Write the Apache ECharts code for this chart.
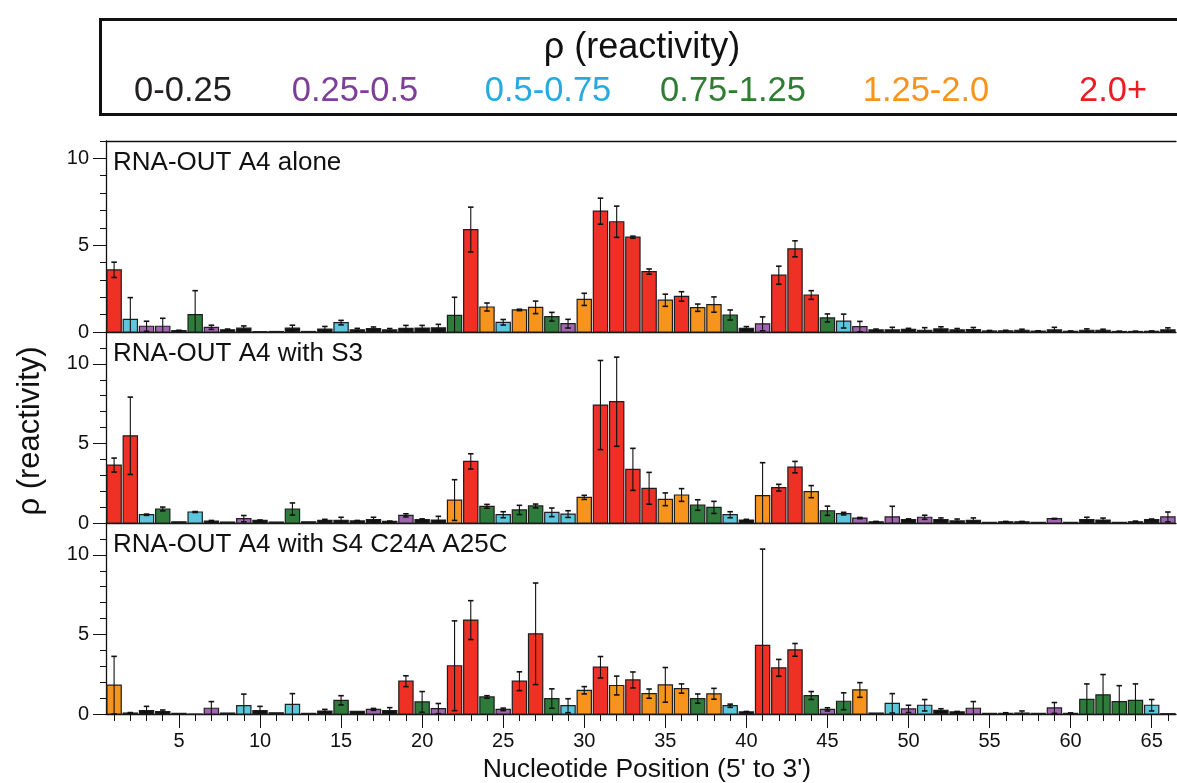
<!DOCTYPE html>
<html>
<head>
<meta charset="utf-8">
<title>SHAPE reactivity profiles</title>
<script src="https://cdn.jsdelivr.net/npm/echarts@6/dist/echarts.min.js"></script>
<style>
  html, body { margin: 0; padding: 0; background: #ffffff; }
  #chart { width: 1177px; height: 783px; }
</style>
</head>
<body>
<div id="chart"></div>
<script>
// Nucleotide positions (5' to 3')
const positions = [
  1, 2, 3, 4, 5, 6, 7, 8, 9, 10, 11, 12, 13, 14, 15, 16, 17, 18, 19, 20, 21, 22,
  23, 24, 25, 26, 27, 28, 29, 30, 31, 32, 33, 34, 35, 36, 37, 38, 39, 40, 41, 42, 43, 44,
  45, 46, 47, 48, 49, 50, 51, 52, 53, 54, 55, 56, 57, 58, 59, 60, 61, 62, 63, 64, 65, 66
];

// RNA-OUT A4 alone: reactivity and error
const aloneRho = [
  3.58, 0.73, 0.33, 0.33, 0.08, 1.00, 0.27, 0.13, 0.22, 0.02, 0.03, 0.22, 0.03, 0.17, 0.54, 0.13,
  0.19, 0.12, 0.21, 0.23, 0.24, 0.96, 5.90, 1.44, 0.56, 1.27, 1.42, 0.88, 0.48, 1.88, 6.96, 6.35,
  5.46, 3.48, 1.83, 2.05, 1.40, 1.58, 0.98, 0.21, 0.47, 3.27, 4.79, 2.13, 0.81, 0.63, 0.31, 0.12,
  0.12, 0.15, 0.10, 0.18, 0.12, 0.14, 0.06, 0.07, 0.10, 0.05, 0.12, 0.04, 0.10, 0.10, 0.03, 0.03,
  0.04, 0.12
];
const aloneErr = [
  0.44, 1.25, 0.29, 0.46, 0.02, 1.38, 0.12, 0.04, 0.13, 0.00, 0.00, 0.17, 0.00, 0.15, 0.13, 0.08,
  0.10, 0.08, 0.17, 0.15, 0.20, 1.04, 1.29, 0.23, 0.16, 0.04, 0.36, 0.25, 0.25, 0.35, 0.75, 0.90,
  0.06, 0.15, 0.35, 0.27, 0.21, 0.44, 0.29, 0.10, 0.40, 0.52, 0.46, 0.25, 0.23, 0.40, 0.30, 0.05,
  0.15, 0.06, 0.15, 0.12, 0.08, 0.12, 0.03, 0.03, 0.06, 0.02, 0.15, 0.02, 0.08, 0.06, 0.02, 0.02,
  0.02, 0.12
];

// RNA-OUT A4 with S3
const s3Rho = [
  3.64, 5.48, 0.52, 0.88, 0.08, 0.69, 0.12, 0.06, 0.27, 0.16, 0.06, 0.88, 0.08, 0.17, 0.17, 0.13,
  0.21, 0.10, 0.48, 0.21, 0.19, 1.44, 3.87, 1.05, 0.52, 0.82, 1.07, 0.67, 0.56, 1.61, 7.41, 7.62,
  3.37, 2.18, 1.49, 1.76, 1.13, 0.98, 0.52, 0.19, 1.72, 2.22, 3.51, 1.97, 0.77, 0.59, 0.31, 0.08,
  0.38, 0.22, 0.36, 0.22, 0.13, 0.17, 0.04, 0.08, 0.08, 0.04, 0.27, 0.04, 0.21, 0.19, 0.04, 0.08,
  0.22, 0.38
];
const s3Err = [
  0.44, 2.43, 0.04, 0.12, 0.00, 0.03, 0.04, 0.00, 0.20, 0.03, 0.00, 0.38, 0.00, 0.06, 0.19, 0.03,
  0.15, 0.02, 0.10, 0.05, 0.23, 1.28, 0.48, 0.12, 0.19, 0.29, 0.12, 0.27, 0.21, 0.13, 2.80, 2.80,
  1.32, 1.00, 0.40, 0.40, 0.33, 0.38, 0.19, 0.04, 2.07, 0.21, 0.36, 0.38, 0.29, 0.08, 0.04, 0.02,
  0.67, 0.04, 0.13, 0.10, 0.12, 0.15, 0.00, 0.02, 0.02, 0.00, 0.02, 0.00, 0.15, 0.12, 0.00, 0.04,
  0.03, 0.31
];

// RNA-OUT A4 with S4 C24A A25C
const s4Rho = [
  1.81, 0.06, 0.21, 0.15, 0.04, 0.00, 0.36, 0.06, 0.52, 0.21, 0.08, 0.61, 0.04, 0.19, 0.86, 0.17,
  0.29, 0.21, 2.06, 0.76, 0.34, 3.03, 5.90, 1.07, 0.29, 2.06, 5.04, 0.97, 0.52, 1.49, 2.94, 1.79,
  2.14, 1.28, 1.83, 1.60, 0.97, 1.27, 0.52, 0.13, 4.31, 2.90, 4.03, 1.16, 0.29, 0.80, 1.51, 0.06,
  0.67, 0.32, 0.55, 0.23, 0.13, 0.36, 0.04, 0.04, 0.06, 0.04, 0.38, 0.04, 0.92, 1.20, 0.78, 0.86,
  0.55, 0.02
];
const s4Err = [
  1.81, 0.03, 0.27, 0.10, 0.00, 0.00, 0.42, 0.00, 0.73, 0.27, 0.00, 0.67, 0.00, 0.10, 0.29, 0.00,
  0.06, 0.19, 0.34, 0.65, 0.32, 2.82, 1.22, 0.08, 0.08, 0.59, 3.19, 0.61, 0.44, 0.23, 0.67, 0.59,
  0.50, 0.29, 1.09, 0.29, 0.29, 0.34, 0.10, 0.03, 6.05, 0.53, 0.40, 0.25, 0.10, 0.53, 0.46, 0.00,
  0.61, 0.23, 0.36, 0.10, 0.03, 0.42, 0.00, 0.04, 0.13, 0.00, 0.34, 0.03, 0.97, 1.28, 1.00, 1.03,
  0.36, 0.00
];

// Panel captions
const panelTitles = ['RNA-OUT A4 alone', 'RNA-OUT A4 with S3', 'RNA-OUT A4 with S4 C24A A25C'];

// Reactivity classes: lower bounds, labels, bar fills and label colours
const classBounds = [0, 0.25, 0.5, 0.75, 1.25, 2.0];
const classLabels = ['0-0.25', '0.25-0.5', '0.5-0.75', '0.75-1.25', '1.25-2.0', '2.0+'];
const classFills = ['#121212', '#a065ae', '#5cc6dc', '#2e7b3c', '#f7941d', '#ee3124'];
const classText = ['#231f20', '#7e3f98', '#27aae1', '#2e7d32', '#f7941d', '#ed1c24'];

// Tick labels
const xTickLabels = [5, 10, 15, 20, 25, 30, 35, 40, 45, 50, 55, 60, 65];
const yTickLabels = [0, 5, 10];
const yMinorTicks = [0, 1, 2, 3, 4, 5, 6, 7, 8, 9, 10, 11, 12];

const FONT = '"Liberation Sans", Arial, Helvetica, sans-serif';

function classOf(v) {
  let k = 0;
  for (let i = 0; i < classBounds.length; i++) {
    if (v >= classBounds[i]) k = i;
  }
  return k;
}

// One bar plus its error bar, placed through the axis scales
function renderBar(params, api) {
  const x = api.value(0);
  const v = api.value(1);
  const e = api.value(2);
  const base = api.coord([x, 0]);
  const top = api.coord([x, v]);
  const unit = api.size([1, 0])[0];
  const w = unit * 0.88;
  const children = [{
    type: 'rect',
    shape: { x: base[0] - w / 2, y: top[1], width: w, height: Math.max(base[1] - top[1], 0.4) },
    style: { fill: classFills[classOf(v)], stroke: '#1e1e1e', lineWidth: 1.2 }
  }];
  if (e > 0) {
    const hi = api.coord([x, v + e]);
    const clipped = v - e < 0;
    const lo = api.coord([x, Math.max(v - e, 0)]);
    const cap = unit * 0.17;
    children.push({
      type: 'line',
      shape: { x1: hi[0], y1: hi[1], x2: lo[0], y2: lo[1] },
      style: { stroke: '#111', lineWidth: 1.1 }
    });
    children.push({
      type: 'line',
      shape: { x1: hi[0] - cap, y1: hi[1], x2: hi[0] + cap, y2: hi[1] },
      style: { stroke: '#111', lineWidth: 1.6 }
    });
    if (!clipped) {
      children.push({
        type: 'line',
        shape: { x1: lo[0] - cap, y1: lo[1], x2: lo[0] + cap, y2: lo[1] },
        style: { stroke: '#111', lineWidth: 1.6 }
      });
    }
  }
  return { type: 'group', children: children };
}

function panelData(rho, err) {
  return positions.map((p, i) => [p, rho[i], err[i]]);
}

const chart = echarts.init(document.getElementById('chart'), null, { renderer: 'canvas' });

const PLOT_LEFT = 106;
const PLOT_RIGHT = 1;
const grids = [
  { left: PLOT_LEFT, right: PLOT_RIGHT, top: 141, height: 191 },
  { left: PLOT_LEFT, right: PLOT_RIGHT, top: 332, height: 191 },
  { left: PLOT_LEFT, right: PLOT_RIGHT, top: 523, height: 191 }
];
const yMax = [11, 12, 12];

const axisLineStyle = { color: '#111', width: 1.3 };

const xAxes = [];
const yAxes = [];
grids.forEach((g, gi) => {
  // baseline of each panel
  xAxes.push({
    type: 'value', gridIndex: gi, min: 0.5, max: 66.5, position: 'bottom', offset: 0,
    axisLine: { show: true, onZero: false, lineStyle: axisLineStyle },
    axisTick: gi === 2 ? { show: true, inside: false, length: 7, customValues: positions, lineStyle: { color: '#111', width: 1 } } : { show: false },
    axisLabel: { show: false },
    splitLine: { show: false }
  });
  // left axis with minor ticks
  yAxes.push({
    type: 'value', gridIndex: gi, min: 0, max: yMax[gi], position: 'left', offset: 0,
    axisLine: { show: true, onZero: false, lineStyle: axisLineStyle },
    axisTick: { show: true, inside: false, length: 6, customValues: yMinorTicks.filter(t => t <= yMax[gi]), lineStyle: { color: '#111', width: 1 } },
    axisLabel: { show: false },
    splitLine: { show: false }
  });
  // left axis with major ticks and labels
  yAxes.push({
    type: 'value', gridIndex: gi, min: 0, max: yMax[gi], position: 'left', offset: 0,
    axisLine: { show: false },
    axisTick: { show: true, inside: false, length: 13, customValues: yTickLabels, lineStyle: { color: '#111', width: 1 } },
    axisLabel: { show: true, customValues: yTickLabels, margin: 17, fontFamily: FONT, fontSize: 20, color: '#111' },
    splitLine: { show: false }
  });
});
// frame line on top of the first panel
xAxes.push({
  type: 'value', gridIndex: 0, min: 0.5, max: 66.5, position: 'top', offset: 0,
  axisLine: { show: true, onZero: false, lineStyle: axisLineStyle },
  axisTick: { show: false }, axisLabel: { show: false }, splitLine: { show: false }
});
// major ticks and labels along the bottom panel
xAxes.push({
  type: 'value', gridIndex: 2, min: 0.5, max: 66.5, position: 'bottom', offset: 0,
  axisLine: { show: false },
  axisTick: { show: true, inside: false, length: 14, customValues: xTickLabels, lineStyle: { color: '#111', width: 1 } },
  axisLabel: { show: true, customValues: xTickLabels, margin: 17, fontFamily: FONT, fontSize: 20, color: '#111' },
  splitLine: { show: false }
});

const panels = [
  panelData(aloneRho, aloneErr),
  panelData(s3Rho, s3Err),
  panelData(s4Rho, s4Err)
];

const series = panels.map((d, i) => ({
  type: 'custom',
  name: panelTitles[i],
  xAxisIndex: i,
  yAxisIndex: i * 2,
  renderItem: renderBar,
  encode: { x: 0, y: 1 },
  data: d,
  z: 3,
  animation: false
}));

// key box with the reactivity classes
const keyCentres = [183, 355, 548, 733, 926, 1113];
const graphics = [
  {
    type: 'rect', left: 98, top: 17, shape: { width: 1100, height: 95 },
    style: { fill: 'none', stroke: '#111', lineWidth: 3 }, z: 10
  },
  {
    type: 'text', x: 642, y: 48,
    style: { text: 'ρ (reactivity)', font: '36px ' + FONT, fill: '#111', align: 'center', verticalAlign: 'middle' }, z: 10
  }
];
classLabels.forEach((lab, i) => {
  graphics.push({
    type: 'text', x: keyCentres[i], y: 91,
    style: { text: lab, font: '34.5px ' + FONT, fill: classText[i], align: 'center', verticalAlign: 'middle' }, z: 10
  });
});
panelTitles.forEach((t, i) => {
  graphics.push({
    type: 'text', x: 113, y: grids[i].top + 22,
    style: { text: t, font: '26px ' + FONT, fill: '#111', align: 'left', verticalAlign: 'middle' }, z: 10
  });
});
graphics.push({
  type: 'text', x: 647, y: 770,
  style: { text: "Nucleotide Position (5' to 3')", font: '26.5px ' + FONT, fill: '#111', align: 'center', verticalAlign: 'middle' }, z: 10
});
graphics.push({
  type: 'text', x: 30, y: 431, rotation: Math.PI / 2,
  style: { text: 'ρ (reactivity)', font: '31px ' + FONT, fill: '#111', align: 'center', verticalAlign: 'middle' }, z: 10
});

chart.setOption({
  backgroundColor: '#ffffff',
  animation: false,
  grid: grids,
  xAxis: xAxes,
  yAxis: yAxes,
  series: series,
  graphic: graphics
});
</script>
</body>
</html>
